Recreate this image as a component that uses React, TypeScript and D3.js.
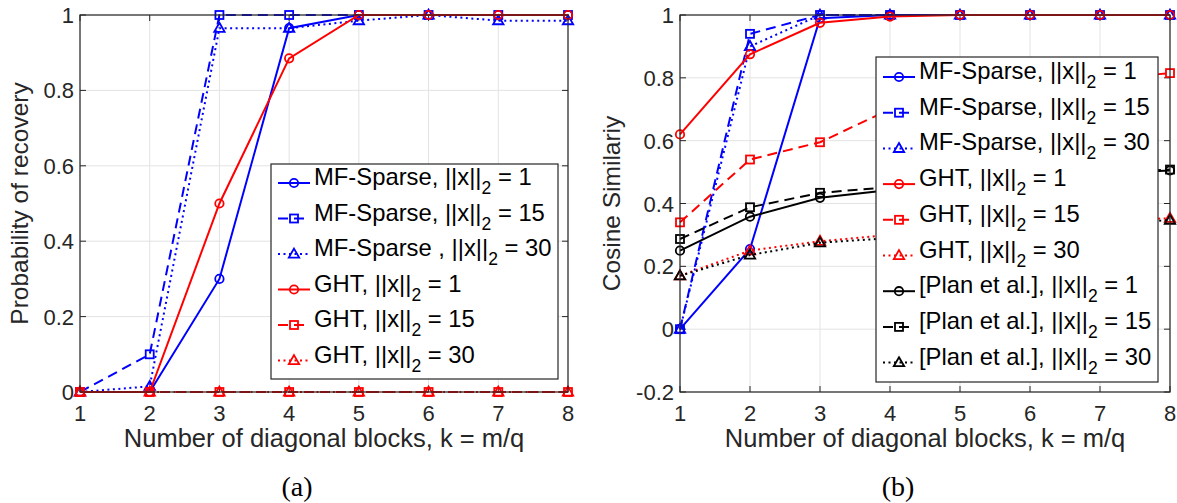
import React from 'react';
import * as d3 from 'd3';

// ---------- data ----------
const kValues = [1, 2, 3, 4, 5, 6, 7, 8];
const xTicks = [1, 2, 3, 4, 5, 6, 7, 8];
const yTicksA = [0, 0.2, 0.4, 0.6, 0.8, 1];
const yTicksB = [-0.2, 0, 0.2, 0.4, 0.6, 0.8, 1];

// (a) probability of recovery
const probMF1 = [0, 0, 0.3, 0.965, 1, 1, 1, 1];
const probMF15 = [0, 0.1, 1, 1, 1, 1, 1, 1];
const probMF30 = [0, 0.015, 0.965, 0.965, 0.985, 1, 0.985, 0.985];
const probGHT1 = [0, 0, 0.5, 0.885, 1, 1, 1, 1];
const probGHT15 = [0, 0, 0, 0, 0, 0, 0, 0];
const probGHT30 = [0, 0, 0, 0, 0, 0, 0, 0];

// (b) cosine similarity
const cosMF1 = [0, 0.255, 0.99, 1, 1, 1, 1, 1];
const cosMF15 = [0, 0.94, 1, 1, 1, 1, 1, 1];
const cosMF30 = [0, 0.9, 1, 1, 1, 1, 1, 1];
const cosGHT1 = [0.62, 0.875, 0.975, 0.995, 1, 1, 1, 1];
const cosGHT15 = [0.34, 0.54, 0.595, 0.7, 0.74, 0.77, 0.795, 0.815];
const cosGHT30 = [0.17, 0.25, 0.28, 0.3, 0.315, 0.33, 0.345, 0.353];
const cosPlan1 = [0.25, 0.358, 0.418, 0.443, 0.465, 0.48, 0.495, 0.505];
const cosPlan15 = [0.287, 0.388, 0.434, 0.452, 0.47, 0.485, 0.498, 0.508];
const cosPlan30 = [0.17, 0.236, 0.275, 0.29, 0.305, 0.32, 0.335, 0.347];

const legendA = [
  'MF-Sparse, ||x||', 'MF-Sparse, ||x||', 'MF-Sparse , ||x||',
  'GHT, ||x||', 'GHT, ||x||', 'GHT, ||x||',
];
const legendB = [
  'MF-Sparse, ||x||', 'MF-Sparse, ||x||', 'MF-Sparse, ||x||',
  'GHT, ||x||', 'GHT, ||x||', 'GHT, ||x||',
  '[Plan et al.], ||x||', '[Plan et al.], ||x||', '[Plan et al.], ||x||',
];
const normValues = ['1', '15', '30'];

// ---------- styles ----------
const BLUE = '#0000ff';
const RED = '#ff0000';
const BLACK = '#000000';
const AXIS = '#262626';
const GRID = '#e3e3e3';
const SANS = '"Liberation Sans", Arial, Helvetica, sans-serif';

type Marker = 'circle' | 'square' | 'triangle';
const styleSet: { dash: string | undefined; marker: Marker }[] = [
  { dash: undefined, marker: 'circle' },
  { dash: '10,6', marker: 'square' },
  { dash: '2,3.5', marker: 'triangle' },
];

interface Series { values: number[]; color: string; dash?: string; marker: Marker; label: string; norm: string; }

const seriesA: Series[] = [probMF1, probMF15, probMF30, probGHT1, probGHT15, probGHT30].map((v, i) => ({
  values: v,
  color: i < 3 ? BLUE : RED,
  dash: styleSet[i % 3].dash,
  marker: styleSet[i % 3].marker,
  label: legendA[i],
  norm: normValues[i % 3],
}));

const seriesB: Series[] = [cosMF1, cosMF15, cosMF30, cosGHT1, cosGHT15, cosGHT30, cosPlan1, cosPlan15, cosPlan30].map((v, i) => ({
  values: v,
  color: i < 3 ? BLUE : i < 6 ? RED : BLACK,
  dash: styleSet[i % 3].dash,
  marker: styleSet[i % 3].marker,
  label: legendB[i],
  norm: normValues[i % 3],
}));

function MarkerShape({ type, x, y, color }: { type: Marker; x: number; y: number; color: string }) {
  if (type === 'circle') return <circle cx={x} cy={y} r={4.2} fill="none" stroke={color} strokeWidth={1.8} />;
  if (type === 'square') return <rect x={x - 4} y={y - 4} width={8} height={8} fill="none" stroke={color} strokeWidth={1.8} />;
  const h = 9;
  return (
    <path
      d={`M${x},${y - h * 0.6} L${x + 5.2},${y + h * 0.4} L${x - 5.2},${y + h * 0.4} Z`}
      fill="none"
      stroke={color}
      strokeWidth={1.8}
    />
  );
}

interface PanelProps {
  left: number; right: number; top: number; bottom: number;
  yDomain: [number, number]; yTicks: number[]; series: Series[];
  yLabel: string; yLabelOffset: number; caption: string;
  legend: { x: number; y: number; w: number; h: number; row0: number; rowStep: number };
}

function Panel({ left, right, top, bottom, yDomain, yTicks, series, yLabel, yLabelOffset, caption, legend }: PanelProps) {
  const x = d3.scaleLinear().domain([1, 8]).range([left, right]);
  const y = d3.scaleLinear().domain(yDomain).range([bottom, top]);
  const line = d3.line<number>().x((_, i) => x(kValues[i])).y((d) => y(d));
  const tickLen = 6;
  const fmt = (v: number) => String(+v.toFixed(1));
  const cx = (left + right) / 2;
  return (
    <g>
      {/* grid */}
      {xTicks.map((t) => (
        <line key={'gx' + t} x1={x(t)} x2={x(t)} y1={top} y2={bottom} stroke={GRID} strokeWidth={1} />
      ))}
      {yTicks.map((t) => (
        <line key={'gy' + t} x1={left} x2={right} y1={y(t)} y2={y(t)} stroke={GRID} strokeWidth={1} />
      ))}
      {/* ticks */}
      {xTicks.map((t) => (
        <g key={'tx' + t}>
          <line x1={x(t)} x2={x(t)} y1={bottom} y2={bottom - tickLen} stroke={AXIS} />
          <line x1={x(t)} x2={x(t)} y1={top} y2={top + tickLen} stroke={AXIS} />
          <text x={x(t)} y={bottom + 29} textAnchor="middle" fontSize={22} fontFamily={SANS} fill={AXIS}>{t}</text>
        </g>
      ))}
      {yTicks.map((t) => (
        <g key={'ty' + t}>
          <line x1={left} x2={left + tickLen} y1={y(t)} y2={y(t)} stroke={AXIS} />
          <line x1={right} x2={right - tickLen} y1={y(t)} y2={y(t)} stroke={AXIS} />
          <text x={left - 6} y={y(t) + 8} textAnchor="end" fontSize={22} fontFamily={SANS} fill={AXIS}>{fmt(t)}</text>
        </g>
      ))}
      {/* series */}
      {series.map((s, i) => (
        <g key={'s' + i}>
          <path d={line(s.values) || ''} fill="none" stroke={s.color} strokeWidth={2} strokeDasharray={s.dash} />
          {s.values.map((v, j) => (
            <MarkerShape key={j} type={s.marker} x={x(kValues[j])} y={y(v)} color={s.color} />
          ))}
        </g>
      ))}
      {/* box */}
      <rect x={left} y={top} width={right - left} height={bottom - top} fill="none" stroke={AXIS} strokeWidth={1.2} />
      {/* legend */}
      <rect x={legend.x} y={legend.y} width={legend.w} height={legend.h} fill="#fff" stroke={AXIS} strokeWidth={1.2} />
      {series.map((s, i) => {
        const ry = legend.row0 + i * legend.rowStep;
        const lx = legend.x + 7;
        return (
          <g key={'l' + i}>
            <line x1={lx} x2={lx + 32} y1={ry} y2={ry} stroke={s.color} strokeWidth={2} strokeDasharray={s.dash} />
            <MarkerShape type={s.marker} x={lx + 16} y={ry} color={s.color} />
            <text x={lx + 36} y={ry + 2} fontSize={23.8} fontFamily={SANS} fill="#000">
              {s.label}
              <tspan fontSize={17.5} dy={9}>2</tspan>
              <tspan dy={-9}>{' = ' + s.norm}</tspan>
            </text>
          </g>
        );
      })}
      {/* labels */}
      <text x={cx} y={bottom + 55} textAnchor="middle" fontSize={25.5} fontFamily={SANS} fill={AXIS}>
        Number of diagonal blocks, k = m/q
      </text>
      <text
        transform={`translate(${left - yLabelOffset},${(top + bottom) / 2}) rotate(-90)`}
        textAnchor="middle"
        fontSize={24.5}
        fontFamily={SANS}
        fill={AXIS}
      >
        {yLabel}
      </text>
      <text x={cx - 27} y={496} textAnchor="middle" fontSize={28} fontFamily='"Liberation Serif", "DejaVu Serif", serif' fill="#000">
        {caption}
      </text>
    </g>
  );
}

export default function App() {
  return (
    <svg width={1177} height={503} style={{ position: 'absolute', left: 0, top: 0, background: '#fff' }}>
      <rect x={0} y={0} width={1177} height={503} fill="#fff" />
      <Panel
        left={80} right={568} top={15} bottom={392}
        yDomain={[0, 1]} yTicks={yTicksA} series={seriesA}
        yLabel="Probability of recovery" yLabelOffset={52} caption="(a)"
        legend={{ x: 271, y: 164, w: 287, h: 215, row0: 183, rowStep: 35.5 }}
      />
      <Panel
        left={680} right={1170} top={15} bottom={392}
        yDomain={[-0.2, 1]} yTicks={yTicksB} series={seriesB}
        yLabel="Cosine Similariy" yLabelOffset={60} caption="(b)"
        legend={{ x: 876, y: 57, w: 282, h: 325, row0: 77, rowStep: 35.7 }}
      />
    </svg>
  );
}
